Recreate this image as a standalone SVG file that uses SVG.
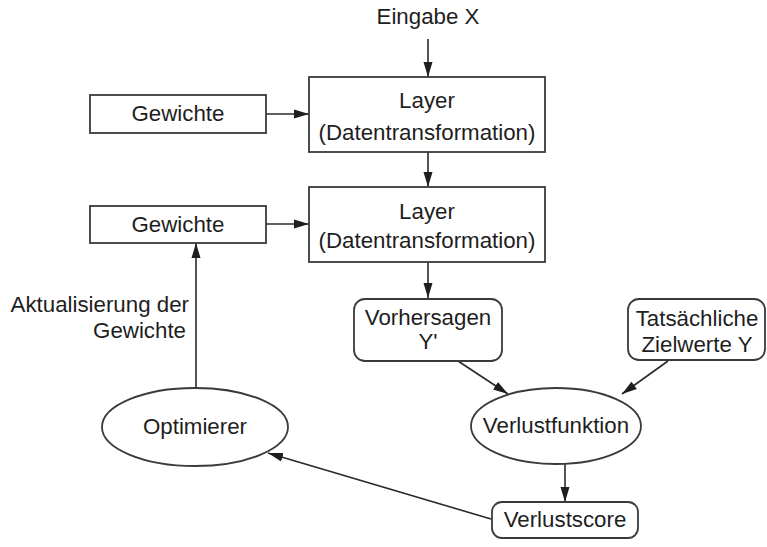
<svg xmlns="http://www.w3.org/2000/svg" width="767" height="547" viewBox="0 0 767 547">
  <style>
    .box { fill: #ffffff; stroke: #3a3a3a; stroke-width: 1.8; }
    .edge { fill: none; stroke: #2a2a2a; stroke-width: 1.6; }
    text { font-family: "Liberation Sans", Arial, Helvetica, sans-serif; font-size: 22.3px; fill: #1e1e1e; text-anchor: middle; }
    .right { text-anchor: end; }
  </style>
  <defs>
    <marker id="arrow" viewBox="0 0 15 10" refX="15" refY="5" markerWidth="15" markerHeight="10" markerUnits="userSpaceOnUse" orient="auto">
      <path d="M0,0.5 L15,5 L0,9.5 Z" fill="#1e1e1e"/>
    </marker>
  </defs>
  <rect width="767" height="547" fill="#ffffff"/>

  <!-- connectors -->
  <g id="connectors">
    <line class="edge" x1="428" y1="39" x2="428" y2="77" marker-end="url(#arrow)"/>
    <line class="edge" x1="266" y1="114" x2="309" y2="114" marker-end="url(#arrow)"/>
    <line class="edge" x1="428" y1="152" x2="428" y2="187" marker-end="url(#arrow)"/>
    <line class="edge" x1="266" y1="224" x2="309" y2="224" marker-end="url(#arrow)"/>
    <line class="edge" x1="428" y1="262" x2="428" y2="298" marker-end="url(#arrow)"/>
    <line class="edge" x1="196" y1="388" x2="196" y2="243" marker-end="url(#arrow)"/>
    <line class="edge" x1="458" y1="361" x2="508" y2="394" marker-end="url(#arrow)"/>
    <line class="edge" x1="668" y1="361" x2="622" y2="394" marker-end="url(#arrow)"/>
    <line class="edge" x1="565" y1="464" x2="565" y2="502" marker-end="url(#arrow)"/>
    <line class="edge" x1="491" y1="519" x2="268" y2="453" marker-end="url(#arrow)"/>
  </g>

  <g id="input-label">
    <text x="428" y="24">Eingabe X</text>
  </g>

  <g id="layer1">
    <rect class="box" x="309" y="77" width="236" height="75"/>
    <text x="427" y="108">Layer</text>
    <text x="427" y="140">(Datentransformation)</text>
  </g>

  <g id="weights1">
    <rect class="box" x="90" y="95" width="176" height="38"/>
    <text x="178" y="121">Gewichte</text>
  </g>

  <g id="layer2">
    <rect class="box" x="309" y="187" width="236" height="75"/>
    <text x="427" y="219">Layer</text>
    <text x="427" y="248">(Datentransformation)</text>
  </g>

  <g id="weights2">
    <rect class="box" x="90" y="206" width="176" height="37"/>
    <text x="178" y="232">Gewichte</text>
  </g>

  <g id="update-label">
    <text class="right" x="189" y="312">Aktualisierung der</text>
    <text class="right" x="186" y="338">Gewichte</text>
  </g>

  <g id="predictions">
    <rect class="box" x="354" y="299" width="148" height="62" rx="11"/>
    <text x="428" y="325">Vorhersagen</text>
    <text x="428" y="349">Y'</text>
  </g>

  <g id="targets">
    <rect class="box" x="628" y="299" width="137" height="61" rx="11"/>
    <text x="697" y="326">Tatsächliche</text>
    <text x="697" y="352">Zielwerte Y</text>
  </g>

  <g id="optimizer">
    <ellipse class="box" cx="195" cy="427" rx="93" ry="39"/>
    <text x="195" y="434">Optimierer</text>
  </g>

  <g id="loss-function">
    <ellipse class="box" cx="556" cy="426" rx="85" ry="38"/>
    <text x="556" y="433">Verlustfunktion</text>
  </g>

  <g id="loss-score">
    <rect class="box" x="492" y="502" width="146" height="36" rx="10"/>
    <text x="565" y="527">Verlustscore</text>
  </g>
</svg>
